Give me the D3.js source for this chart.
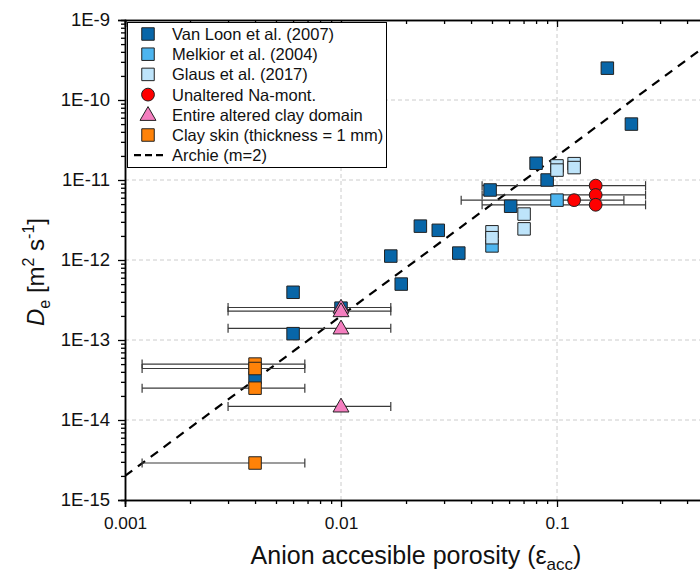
<!DOCTYPE html>
<html><head><meta charset="utf-8">
<script src="https://cdn.jsdelivr.net/npm/d3@7"></script>
<style>body{margin:0;background:#fff}svg{display:block;font-family:Arial,"Liberation Sans",sans-serif}</style>
</head><body><svg id="c" width="700" height="578"></svg>
<script>
// ---- data ----
const vanLoonX = [0.171, 0.221, 0.080, 0.090, 0.049, 0.061, 0.0282, 0.0233, 0.0351, 0.017, 0.019, 0.006, 0.006, 0.010, 0.004];
const vanLoonY = [2.5e-10, 5.0e-11, 1.62e-11, 1.0e-11, 7.5e-12, 4.7e-12, 2.35e-12, 2.65e-12, 1.22e-12, 1.12e-12, 5.0e-13, 3.95e-13, 1.2e-13, 2.5e-13, 3.4e-14];
const melkiorX = [0.05, 0.1];
const melkiorY = [1.5e-12, 5.6e-12];
const glausX = [0.1, 0.1, 0.12, 0.12, 0.0704, 0.0704, 0.05, 0.05];
const glausY = [1.5e-11, 1.33e-11, 1.6e-11, 1.43e-11, 3.75e-12, 2.45e-12, 2.25e-12, 1.9e-12];
const naMontX = [0.12, 0.151, 0.151, 0.151];
const naMontY = [5.6e-12, 8.5e-12, 6.5e-12, 4.9e-12];
const naMontLo = [0.036, 0.045, 0.045, 0.045];
const naMontHi = [0.204, 0.257, 0.257, 0.257];
const alteredX = [0.01, 0.01, 0.01, 0.01];
const alteredY = [2.55e-13, 2.3e-13, 1.4e-13, 1.48e-14];
const alteredLo = [0.003, 0.003, 0.003, 0.003];
const alteredHi = [0.017, 0.017, 0.017, 0.017];
const skinX = [0.004, 0.004, 0.004, 0.004];
const skinY = [5.0e-14, 4.4e-14, 2.5e-14, 2.9e-15];
const skinLo = [0.0012, 0.0012, 0.0012, 0.0012];
const skinHi = [0.0068, 0.0068, 0.0068, 0.0068];
const archieD0 = 2e-9, archieM = 2;
const xTicks = [0.001, 0.01, 0.1];
const xTickLabels = ["0.001", "0.01", "0.1"];
const yTicks = [1e-15, 1e-14, 1e-13, 1e-12, 1e-11, 1e-10, 1e-9];
const yTickLabels = ["1E-15", "1E-14", "1E-13", "1E-12", "1E-11", "1E-10", "1E-9"];
const legendLabels = ["Van Loon et al. (2007)", "Melkior et al. (2004)", "Glaus et al. (2017)", "Unaltered Na-mont.", "Entire altered clay domain", "Clay skin (thickness = 1 mm)", "Archie (m=2)"];

// ---- layout ----
const L = 125, R = 708, T = 20, B = 500;
const svg = d3.select("#c");
const x = d3.scaleLog().domain([0.001, 0.5]).range([L, R]);
const y = d3.scaleLog().domain([1e-15, 1e-9]).range([B, T]);
const colors = {vl: "#0866A8", me: "#4DB5EF", gl: "#BEE4FA", na: "#FF0000", al: "#F47EBF", sk: "#FF8208"};

svg.append("clipPath").attr("id", "clip").append("rect").attr("x", L).attr("y", T).attr("width", R - L).attr("height", B - T);

// grid
const grid = svg.append("g").attr("stroke", "#cccccc").attr("stroke-dasharray", "4,3").attr("stroke-width", 1);
[0.01, 0.1].forEach(v => grid.append("line").attr("x1", x(v)).attr("x2", x(v)).attr("y1", T).attr("y2", B));
[1e-14, 1e-13, 1e-12, 1e-11, 1e-10].forEach(v => grid.append("line").attr("x1", L).attr("x2", R).attr("y1", y(v)).attr("y2", y(v)));

// minor tick values
const xMinor = [], yMinor = [];
for (let e = -3; e <= -1; e++) for (let k = 2; k <= 9; k++) { const v = k * Math.pow(10, e); if (v <= 0.5) xMinor.push(v); }
for (let e = -15; e <= -10; e++) for (let k = 2; k <= 9; k++) yMinor.push(k * Math.pow(10, e));

function styleAxis(fs) { return g => { g.select(".domain").attr("stroke", "#000").attr("stroke-width", 1.5); g.selectAll("line").attr("stroke", "#000").attr("stroke-width", 1.3); g.selectAll("text").attr("font-size", fs).attr("fill", "#111"); }; }

// bottom
svg.append("g").attr("transform", `translate(0,${B})`).call(d3.axisBottom(x).tickValues(xMinor).tickSize(4).tickFormat("")).call(styleAxis(17.3));
svg.append("g").attr("transform", `translate(0,${B})`).call(d3.axisBottom(x).tickValues(xTicks).tickSize(7).tickPadding(10).tickFormat((d, i) => xTickLabels[i])).call(styleAxis(17.3));
// top
svg.append("g").attr("transform", `translate(0,${T})`).call(d3.axisBottom(x).tickValues(xMinor).tickSize(4).tickFormat("")).call(styleAxis(17));
svg.append("g").attr("transform", `translate(0,${T})`).call(d3.axisBottom(x).tickValues(xTicks).tickSize(7).tickFormat("")).call(styleAxis(17));
// left
svg.append("g").attr("transform", `translate(${L},0)`).call(d3.axisLeft(y).tickValues(yMinor).tickSize(4).tickFormat("")).call(styleAxis(18.5));
svg.append("g").attr("transform", `translate(${L},0)`).call(d3.axisLeft(y).tickValues(yTicks).tickSize(7).tickPadding(8).tickFormat((d, i) => yTickLabels[i])).call(styleAxis(18.5));

const plot = svg.append("g").attr("clip-path", "url(#clip)");

// Archie line
const archX = [0.001, 0.5];
plot.append("path").attr("d", d3.line().x(d => x(d)).y(d => y(archieD0 * Math.pow(d, archieM)))(archX))
  .attr("fill", "none").attr("stroke", "#000").attr("stroke-width", 2.2).attr("stroke-dasharray", "9,7");

// error bars
function errBars(xs, ys, lo, hi) {
  const g = plot.append("g").attr("stroke", "#3a3a3a").attr("stroke-width", 1.2).attr("fill", "none");
  ys.forEach((v, i) => {
    const yy = y(v);
    g.append("line").attr("x1", x(lo[i])).attr("x2", x(hi[i])).attr("y1", yy).attr("y2", yy);
    g.append("line").attr("x1", x(lo[i])).attr("x2", x(lo[i])).attr("y1", yy - 4.5).attr("y2", yy + 4.5);
    g.append("line").attr("x1", x(hi[i])).attr("x2", x(hi[i])).attr("y1", yy - 4.5).attr("y2", yy + 4.5);
  });
}
errBars(naMontX, naMontY, naMontLo, naMontHi);
errBars(alteredX, alteredY, alteredLo, alteredHi);
errBars(skinX, skinY, skinLo, skinHi);

const sq = d3.symbol().type(d3.symbolSquare).size(12.5 * 12.5);
const ci = d3.symbol().type(d3.symbolCircle).size(Math.PI * 6.4 * 6.4);
const tri = d3.symbol().type(d3.symbolTriangle).size(110);
function pts(xs, ys, sym, fill, dy) {
  plot.append("g").selectAll("path").data(xs).join("path")
    .attr("d", sym).attr("transform", (d, i) => `translate(${x(d)},${y(ys[i]) + (dy || 0)})`)
    .attr("fill", fill).attr("stroke", "#222").attr("stroke-width", 1);
}
pts(vanLoonX, vanLoonY, sq, colors.vl);
pts(melkiorX, melkiorY, sq, colors.me);
pts(glausX, glausY, sq, colors.gl);
pts(naMontX, naMontY, ci, colors.na);
pts(alteredX, alteredY, tri, colors.al, 1);
pts(skinX, skinY, sq, colors.sk);

// legend
const lg = svg.append("g");
lg.append("rect").attr("x", 127.5).attr("y", 22.5).attr("width", 259).attr("height", 145).attr("fill", "#fff").attr("stroke", "#000").attr("stroke-width", 1);
const rowY = d3.range(7).map(i => 34 + 20.2 * i);
const lx = 148;
const legSyms = [[sq, colors.vl], [sq, colors.me], [sq, colors.gl], [ci, colors.na], [tri, colors.al], [sq, colors.sk]];
legSyms.forEach((s, i) => lg.append("path").attr("d", s[0]).attr("transform", `translate(${lx},${rowY[i] + (i === 4 ? 1 : 0)})`).attr("fill", s[1]).attr("stroke", "#222"));
lg.append("line").attr("x1", 134).attr("x2", 163).attr("y1", rowY[6]).attr("y2", rowY[6]).attr("stroke", "#000").attr("stroke-width", 2.2).attr("stroke-dasharray", "7,4");
legendLabels.forEach((t, i) => lg.append("text").attr("x", 172).attr("y", rowY[i] + 6).attr("font-size", 16.5).attr("fill", "#111").text(t));

// axis titles
const xt = svg.append("text").attr("x", 416).attr("y", 564).attr("text-anchor", "middle").attr("font-size", 25).attr("fill", "#111");
xt.append("tspan").text("Anion accesible porosity (ε");
xt.append("tspan").attr("font-size", 17).attr("dy", 6).text("acc");
xt.append("tspan").attr("dy", -6).text(")");

const yt = svg.append("text").attr("transform", "translate(44,272) rotate(-90)").attr("text-anchor", "middle").attr("font-size", 24).attr("fill", "#111");
yt.append("tspan").attr("font-style", "italic").text("D");
yt.append("tspan").attr("font-size", 16).attr("dy", 6).text("e");
yt.append("tspan").attr("dy", -6).text(" [m");
yt.append("tspan").attr("font-size", 16).attr("dy", -10).text("2");
yt.append("tspan").attr("dy", 10).text(" s");
yt.append("tspan").attr("font-size", 16).attr("dy", -10).text("-1");
yt.append("tspan").attr("dy", 10).text("]");
</script></body></html>
